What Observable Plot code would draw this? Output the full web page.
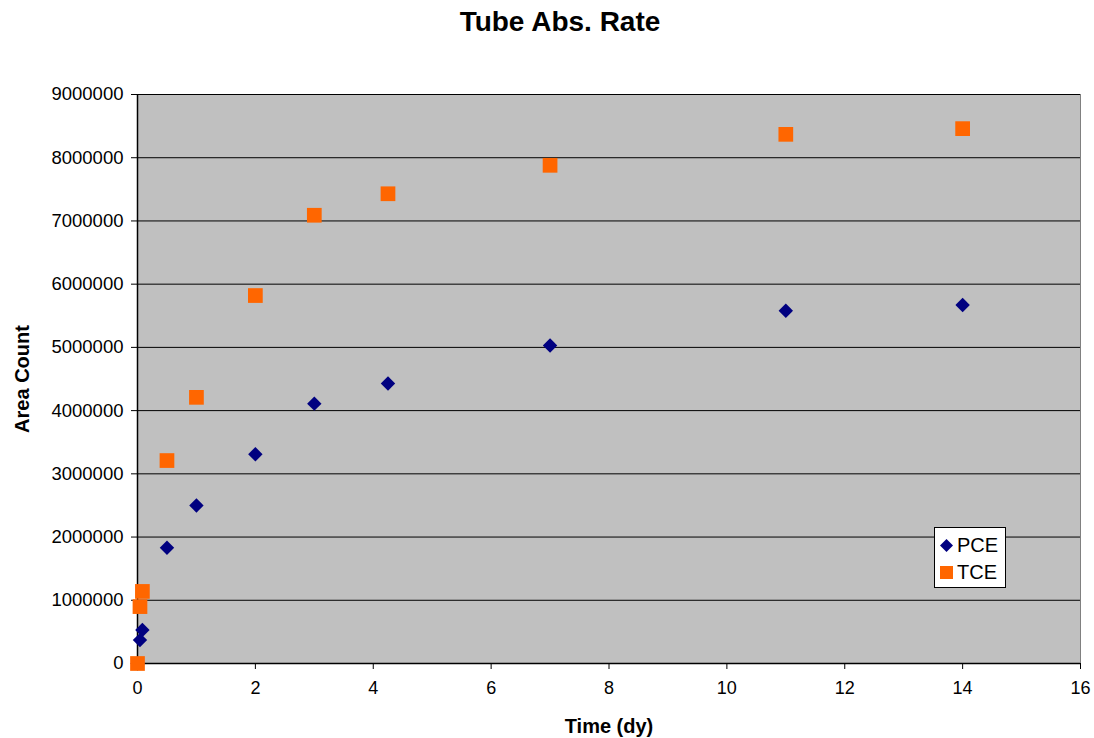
<!DOCTYPE html>
<html><head><meta charset="utf-8">
<script src="https://cdn.jsdelivr.net/npm/d3@7"></script>
<script src="https://cdn.jsdelivr.net/npm/@observablehq/plot@0.6"></script>
<style>
body{margin:0;background:#fff;font-family:"Liberation Sans",Arial,sans-serif;}
#wrap{position:relative;width:1094px;height:738px;}
#title{position:absolute;left:0;width:1120px;top:6px;text-align:center;font-weight:bold;font-size:28px;}
#legend{position:absolute;left:934px;top:527px;width:72px;height:61px;background:#fff;border:1px solid #000;box-sizing:border-box;font-size:20px;}
#legend div{position:absolute;left:4px;display:flex;align-items:center;line-height:22px;}
</style></head><body>
<div id="wrap"><div id="title">Tube Abs. Rate</div><div id="chart"></div>
<div id="legend"><div style="top:6px"><svg width="15" height="15"><path d="M7.5,1L14,7.5L7.5,14L1,7.5Z" fill="#000080"/></svg><span style="margin-left:3px">PCE</span></div>
<div style="top:33px"><svg width="15" height="15"><rect x="1" y="1" width="13" height="13" fill="#FF6600"/></svg><span style="margin-left:3px">TCE</span></div></div>
</div>
<script>
const times = [0, 0.042, 0.083, 0.5, 1, 2, 3, 4.25, 7, 11, 14];
const pce = [0, 370000, 530000, 1830000, 2500000, 3310000, 4110000, 4430000, 5030000, 5580000, 5670000];
const tce = [0, 900000, 1140000, 3210000, 4210000, 5820000, 7090000, 7430000, 7880000, 8370000, 8460000];
const yTicks = d3.range(0, 9000001, 1000000);
const xTicks = d3.range(0, 17, 2);

const pceData = times.map((t,i)=>({t, v:pce[i]}));
const tceData = times.map((t,i)=>({t, v:tce[i]}));

const chart = Plot.plot({
  width:1094, height:738,
  marginLeft:137, marginRight:14, marginTop:94, marginBottom:75,
  style:{fontFamily:"'Liberation Sans',Arial,sans-serif", fontSize:"18px", color:"#000", background:"transparent"},
  x:{domain:[0,16], ticks:xTicks, label:null},
  y:{domain:[0,9000000], ticks:yTicks, tickFormat:d3.format("d"), label:null},
  marks:[
    Plot.frame({fill:"#C0C0C0", stroke:"#808080"}),
    Plot.ruleY(yTicks.slice(1), {stroke:"#000", strokeWidth:1}),
    Plot.ruleY([0], {stroke:"#000", strokeWidth:1.5}),
    Plot.ruleX([0], {stroke:"#000", strokeWidth:1.5}),
    Plot.axisX({ticks:xTicks, tickSize:6, tickPadding:12, fontSize:18, label:null}),
    Plot.axisY({ticks:yTicks, tickFormat:d3.format("d"), tickSize:6, tickPadding:8, fontSize:18.5, label:null}),
    Plot.dot(pceData, {x:"t", y:"v", symbol:"diamond2", r:6.5, fill:"#000080", stroke:null}),
    Plot.dot(tceData, {x:"t", y:"v", symbol:"square", r:8.3, fill:"#FF6600", stroke:null}),
    Plot.text(["Time (dy)"], {frameAnchor:"bottom", dy:69, fontWeight:"bold", fontSize:20, textAnchor:"middle"}),
    Plot.text(["Area Count"], {frameAnchor:"left", dx:-115, rotate:-90, fontWeight:"bold", fontSize:20, textAnchor:"middle"})
  ]
});
document.getElementById("chart").appendChild(chart);
</script></body></html>
